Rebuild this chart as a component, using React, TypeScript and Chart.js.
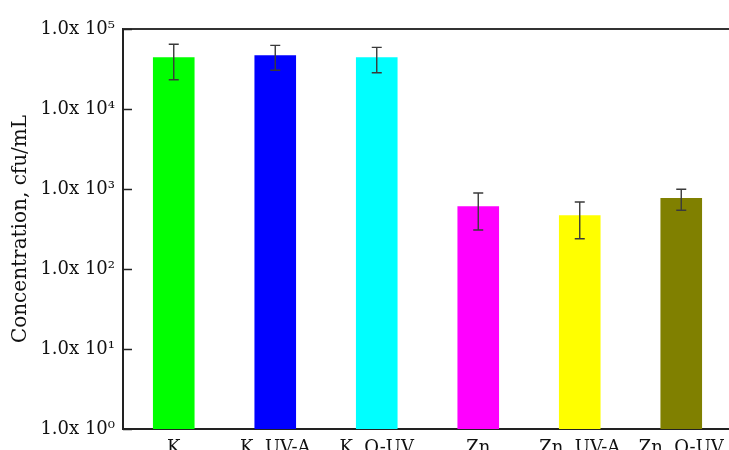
import React, { useEffect, useRef } from 'react';
import { Chart, registerables } from 'chart.js';

Chart.register(...registerables);

const categories = ['K', 'K  UV-A', 'K  O-UV', 'Zn', 'Zn  UV-A', 'Zn  O-UV'];
const means = [44300, 46900, 44300, 608, 469, 772];
const errLow = [23200, 30500, 28400, 307, 239, 542];
const errHigh = [64400, 62500, 59000, 891, 688, 991];
const barColors = ['#00ff00', '#0000ff', '#00ffff', '#ff00ff', '#ffff00', '#808000'];
const yTickValues = [1, 10, 100, 1000, 10000, 100000];
const yTickLabels = ['1.0x 10\u2070', '1.0x 10\u00b9', '1.0x 10\u00b2', '1.0x 10\u00b3', '1.0x 10\u2074', '1.0x 10\u2075'];
const yTitle = 'Concentration, cfu/mL';

const FONT = 'DejaVu Serif';

const errorBarPlugin = {
  id: 'errorBars',
  afterDatasetsDraw(chart: any) {
    const meta = chart.getDatasetMeta(0);
    const yScale = chart.scales.y;
    const ctx = chart.ctx;
    ctx.save();
    ctx.strokeStyle = '#3a3a3a';
    ctx.lineWidth = 1.4;
    meta.data.forEach((bar: any, i: number) => {
      const x = bar.x;
      const yl = yScale.getPixelForValue(errLow[i]);
      const yh = yScale.getPixelForValue(errHigh[i]);
      ctx.beginPath();
      ctx.moveTo(x, yl);
      ctx.lineTo(x, yh);
      ctx.moveTo(x - 5, yl);
      ctx.lineTo(x + 5, yl);
      ctx.moveTo(x - 5, yh);
      ctx.lineTo(x + 5, yh);
      ctx.stroke();
    });
    ctx.restore();
  },
};

const framePlugin = {
  id: 'frame',
  afterDraw(chart: any) {
    const { ctx, chartArea } = chart;
    const yScale = chart.scales.y;
    ctx.save();
    ctx.strokeStyle = '#333333';
    ctx.lineWidth = 2;
    ctx.beginPath();
    ctx.moveTo(chartArea.left, chartArea.top);
    ctx.lineTo(chartArea.right + 20, chartArea.top);
    ctx.stroke();
    // inward tick marks on the y axis
    ctx.strokeStyle = '#222222';
    ctx.lineWidth = 1.5;
    ctx.beginPath();
    yTickValues.forEach((v) => {
      const py = Math.round(yScale.getPixelForValue(v)) + 0.5;
      ctx.moveTo(chartArea.left, py);
      ctx.lineTo(chartArea.left + 9, py);
    });
    ctx.stroke();
    ctx.restore();
  },
};

export default function App() {
  const canvasRef = useRef<HTMLCanvasElement | null>(null);

  useEffect(() => {
    if (!canvasRef.current) return;
    const chart = new Chart(canvasRef.current, {
      type: 'bar',
      data: {
        labels: categories,
        datasets: [
          {
            data: means,
            backgroundColor: barColors,
            borderWidth: 0,
            categoryPercentage: 1,
            barPercentage: 0.41,
          },
        ],
      },
      options: {
        responsive: false,
        animation: false,
        layout: { padding: { top: 29, right: 13, left: 0, bottom: 0 } },
        plugins: {
          legend: { display: false },
          tooltip: { enabled: false },
        },
        scales: {
          x: {
            type: 'category',
            offset: true,
            grid: { display: false },
            border: { display: true, color: '#222222', width: 2 },
            ticks: {
              autoSkip: false,
              maxRotation: 0,
              minRotation: 0,
              padding: 1,
              color: '#111111',
              font: { family: FONT, size: 18 },
            },
            afterFit: (scale: any) => {
              scale.height = 21;
              scale.paddingLeft = 0;
              scale.paddingRight = 0;
            },
          },
          y: {
            type: 'logarithmic',
            min: 1,
            max: 100000,
            afterBuildTicks: (scale: any) => {
              scale.ticks = yTickValues.map((v) => ({ value: v }));
            },
            afterFit: (scale: any) => {
              scale.width = 123;
              scale.paddingTop = 0;
              scale.paddingBottom = 0;
            },
            grid: { display: false, drawTicks: false },
            border: { display: true, color: '#222222', width: 2 },
            ticks: {
              padding: 8,
              color: '#111111',
              font: { family: FONT, size: 18 },
              callback: (_v: any, i: number) => yTickLabels[i],
            },
            title: {
              display: true,
              text: yTitle,
              color: '#111111',
              font: { family: FONT, size: 20 },
              padding: { top: 9, bottom: 0 },
            },
          },
        },
      },
      plugins: [errorBarPlugin, framePlugin],
    } as any);
    return () => chart.destroy();
  }, []);

  return (
    <div
      style={{
        position: 'absolute',
        left: 0,
        top: 0,
        width: 729,
        height: 450,
        overflow: 'hidden',
        background: '#ffffff',
      }}
    >
      <canvas ref={canvasRef} width={745} height={450} style={{ width: 745, height: 450, display: 'block' }} />
    </div>
  );
}
